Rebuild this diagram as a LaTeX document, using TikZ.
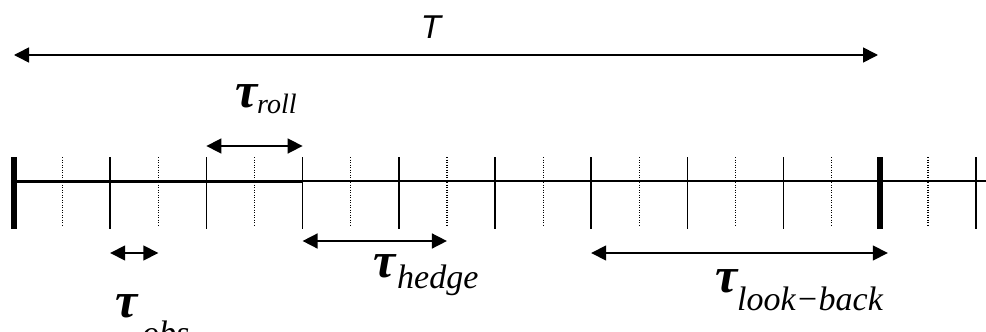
\documentclass[tikz,border=0pt]{standalone}
\usepackage{fontspec}
\setmainfont{Liberation Serif}
\newfontfamily\labelsans{Liberation Sans}
\usetikzlibrary{arrows.meta}

\begin{document}
\begin{tikzpicture}[
    x=1pt, y=-1pt,
    axisthick/.style={line width=3pt},
    axisthin/.style={line width=1.6pt},
    major/.style={line width=1.6pt},
    bigtick/.style={line width=6pt},
    minor/.style={line width=1.2pt, dash pattern=on 1.2pt off 1.3pt},
    span/.style={{Triangle[length=15pt,width=15pt]}-{Triangle[length=15pt,width=15pt]}, line width=1.6pt},
    tau/.style={anchor=base west, inner sep=0pt, font=\fontsize{50}{50}\selectfont\bfseries\itshape},
    sub/.style={anchor=base west, inner sep=0pt, font=\fontsize{34}{34}\selectfont\itshape}
]
\useasboundingbox (0,0) rectangle (986,332);

% time grid
\foreach \i in {0,...,10} {
    \coordinate (t\i) at (14+96.2*\i,181);
    \coordinate (m\i) at (62.1+96.2*\i,181);
}
\coordinate (axisend) at (986,181);

\draw[axisthick] (t0) -- (t3);
\draw[axisthin] (t3) -- (axisend);

\foreach \i in {1,...,8,10}
    \draw[major] ([yshift=24pt]t\i) -- ([yshift=-48pt]t\i);
\foreach \i in {0,9}
    \draw[bigtick] ([yshift=24pt]t\i) -- ([yshift=-48pt]t\i);
\foreach \i in {0,...,9}
    \draw[minor] ([yshift=24pt]m\i) -- ([yshift=-45pt]m\i);

% horizon T
\coordinate (Tl) at (14,55);
\coordinate (Tr) at (878,55);
\draw[span] (Tl) -- (Tr);
\node[anchor=base, inner sep=0pt, font=\labelsans\itshape\fontsize{33}{33}\selectfont] (Tlabel) at (431,38) {T};

% spans
\draw[span] ([yshift=35pt]t2) -- ([yshift=35pt]t3);
\draw[span] ([yshift=-72pt]t1) -- ([yshift=-72pt]m1);
\draw[span] ([yshift=-60pt]t3) -- ([yshift=-60pt]m4);
\draw[span] ([yshift=-72pt]t6) -- ([shift={(8pt,-72pt)}]t9);

% labels
\node[tau] (roll-tau) at (235,107) {τ};
\node[sub, font=\fontsize{28}{28}\selectfont\itshape] (roll-sub) at (257,113) {roll};
\node[tau] (obs-tau) at (115,317) {τ};
\node[sub] (obs-sub) at (142,344) {obs};
\node[tau] (hedge-tau) at (373,277) {τ};
\node[sub] (hedge-sub) at (397,288) {hedge};
\node[tau] (look-tau) at (715,292) {τ};
\node[sub] (look-sub) at (737,310) {look−back};
\end{tikzpicture}
\end{document}
